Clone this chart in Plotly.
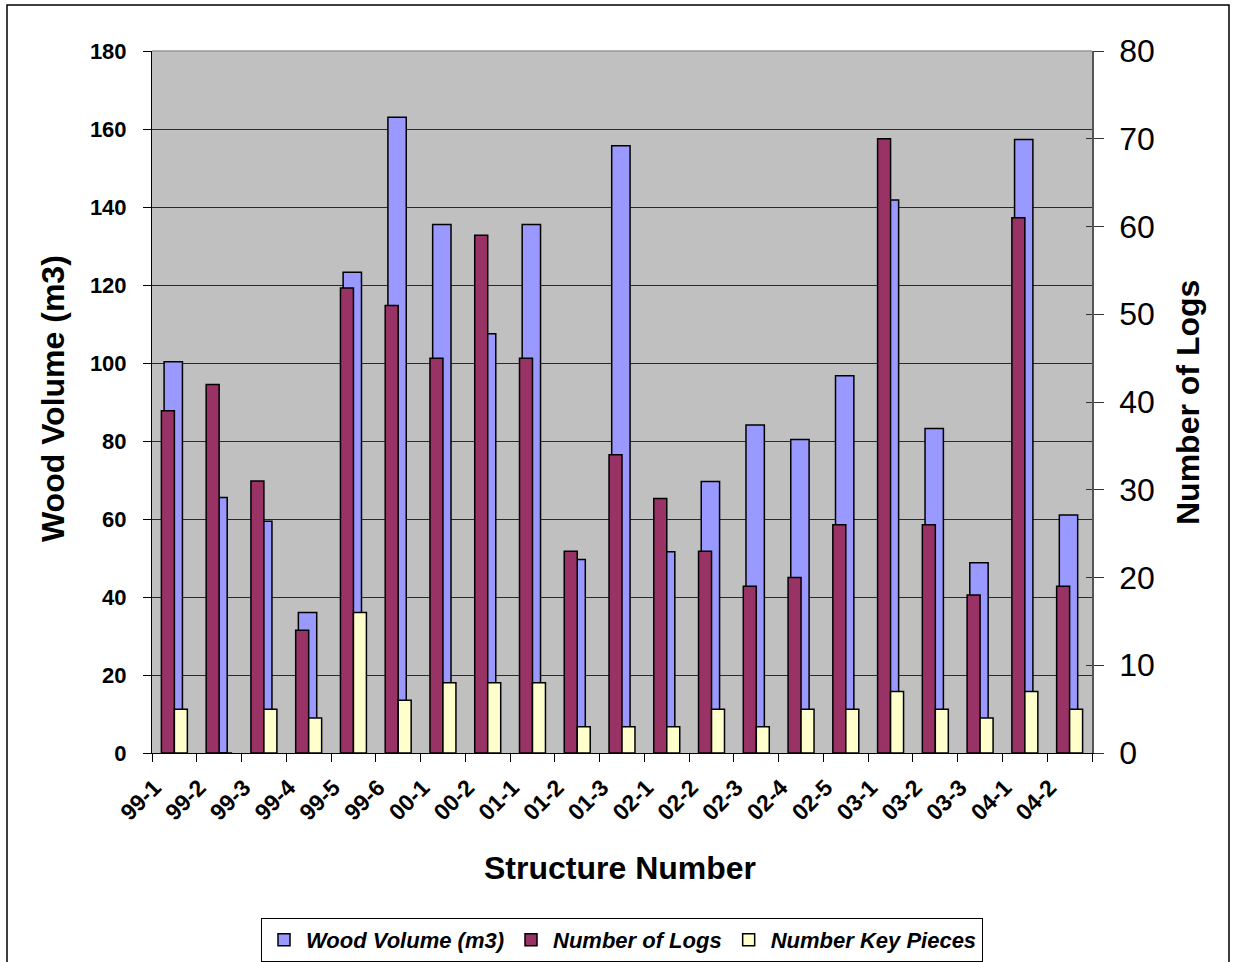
import plotly.graph_objects as go

# Structure survey data
structures = ["99-1", "99-2", "99-3", "99-4", "99-5", "99-6", "00-1", "00-2",
              "01-1", "01-2", "01-3", "02-1", "02-2", "02-3", "02-4", "02-5",
              "03-1", "03-2", "03-3", "04-1", "04-2"]
wood_volume = [100.3, 65.5, 59.4, 36.0, 123.3, 163.0, 135.5, 107.5, 135.5, 49.6, 155.7,
               51.6, 69.6, 84.1, 80.4, 96.7, 141.8, 83.2, 48.8, 157.3, 61.0]
number_of_logs = [39, 42, 31, 14, 53, 51, 45, 59, 45, 23, 34, 29, 23, 19, 20, 26,
                  70, 26, 18, 61, 19]
key_pieces = [5, 0, 5, 4, 16, 6, 8, 8, 8, 3, 3, 3, 5, 3, 5, 5, 7, 5, 4, 7, 5]

W, H = 1236, 962
ML, MR, MT, MB = 152, 144, 51, 209
PW, PH = W - ML - MR, H - MT - MB


def px(x):
    return (x - ML) / PW


def py(y):
    return (MT + PH - y) / PH


FONT = "Liberation Sans, Arial, sans-serif"
LINE = dict(color="black", width=1.5)

fig = go.Figure()
fig.add_trace(go.Bar(
    x=structures, y=wood_volume, name="Wood Volume (m3)",
    marker=dict(color="#9999FF", line=LINE),
    offset=-0.23, width=0.41, yaxis="y",
))
fig.add_trace(go.Bar(
    x=structures, y=number_of_logs, name="Number of Logs",
    marker=dict(color="#993366", line=LINE),
    offset=-0.29, width=0.29, yaxis="y2",
))
fig.add_trace(go.Bar(
    x=structures, y=key_pieces, name="Number Key Pieces",
    marker=dict(color="#FFFFCC", line=LINE),
    offset=0.0, width=0.29, yaxis="y2",
))

fig.update_layout(
    width=W, height=H,
    margin=dict(l=ML, r=MR, t=MT, b=MB, pad=0, autoexpand=False),
    paper_bgcolor="white",
    plot_bgcolor="#C0C0C0",
    barmode="overlay",
    font=dict(family=FONT, color="black"),
    xaxis=dict(
        type="category", range=[-0.5, len(structures) - 0.5],
        tickson="boundaries", ticks="outside", ticklen=8, tickcolor="black",
        showline=True, linecolor="black", linewidth=1,
        tickangle=-45, tickfont=dict(size=23, weight="bold"),
        ticklabelshift=-20, ticklabelstandoff=11,
        showgrid=False, zeroline=False, automargin=False,
    ),
    yaxis=dict(
        range=[0, 180], dtick=20, ticks="outside", ticklen=8, tickcolor="black",
        showline=True, linecolor="black", linewidth=1,
        showgrid=True, gridcolor="#2a2a2a", gridwidth=1, zeroline=False,
        tickfont=dict(size=22, weight="bold"), ticklabelstandoff=12,
        automargin=False,
    ),
    yaxis2=dict(
        range=[0, 80], dtick=10, overlaying="y", side="right", anchor="x",
        ticks="outside", ticklen=10, tickcolor="#333333",
        showline=True, linecolor="#555555", linewidth=1.5,
        showgrid=False, zeroline=False,
        tickfont=dict(size=32), ticklabelstandoff=9, automargin=False,
    ),
    yaxis3=dict(
        range=[0, 80], dtick=10, overlaying="y", side="right", anchor="x",
        ticks="inside", ticklen=6, tickcolor="#333333",
        showticklabels=False, showgrid=False, zeroline=False, showline=False,
        automargin=False,
    ),
    legend=dict(
        orientation="h", x=px(622), xanchor="center", y=py(918), yanchor="top",
        bgcolor="white", bordercolor="black", borderwidth=1,
        font=dict(size=22, weight="bold", style="italic"),
        itemwidth=34, traceorder="normal",
    ),
    showlegend=True,
)

# helper trace so yaxis3 renders its ticks
fig.add_trace(go.Scatter(x=[structures[0]], y=[0], yaxis="y3", mode="markers",
                         marker=dict(opacity=0), showlegend=False, hoverinfo="skip"))

fig.update_layout(
    annotations=[
        dict(text="Wood Volume (m3)", x=px(53), y=py(399), xref="paper", yref="paper",
             textangle=-90, showarrow=False, xanchor="center", yanchor="middle",
             font=dict(size=32, weight="bold")),
        dict(text="Number of Logs", x=px(1188), y=py(403), xref="paper", yref="paper",
             textangle=-90, showarrow=False, xanchor="center", yanchor="middle",
             font=dict(size=32, weight="bold")),
        dict(text="Structure Number", x=px(620), y=py(868), xref="paper", yref="paper",
             showarrow=False, xanchor="center", yanchor="middle",
             font=dict(size=32, weight="bold")),
    ],
    shapes=[
        # top edge of the plot area
        dict(type="line", xref="paper", yref="paper", x0=0, x1=1, y0=1, y1=1,
             line=dict(color="#999999", width=1.5)),
        # outer chart frame
        dict(type="rect", xref="paper", yref="paper",
             x0=px(7), x1=px(1229), y0=py(975), y1=py(5),
             line=dict(color="black", width=1.5), layer="below"),
    ],
)

fig.write_html("out.html")
